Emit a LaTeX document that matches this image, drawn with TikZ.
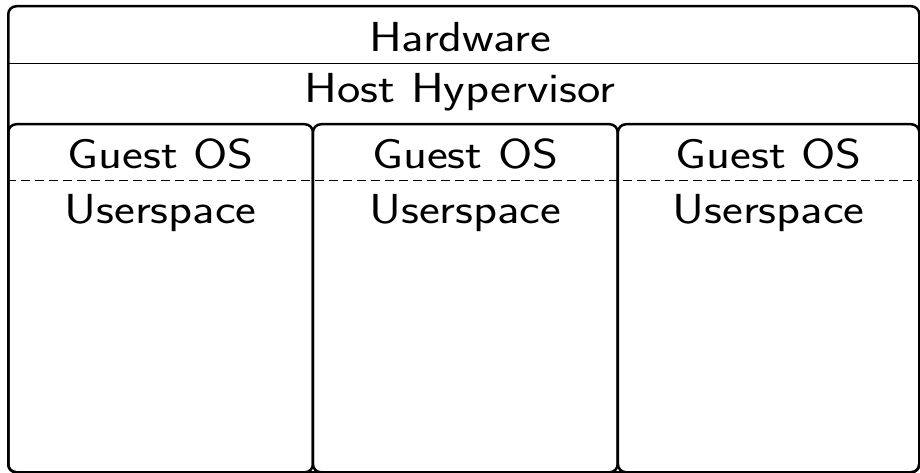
\documentclass[tikz,border=0pt]{standalone}
\usepackage{fontspec}
\newfontfamily\lblfont[FakeStretch=1.18]{lmsans17-regular.otf}
\usetikzlibrary{positioning,calc}
\tikzset{
  frame/.style={draw,line width=2.5pt,rounded corners=8pt,inner sep=0pt,anchor=north west},
  guest/.style={frame,minimum width=304.7pt,minimum height=348pt},
  lbl/.style={font=\fontsize{42}{48}\lblfont,inner sep=0pt,anchor=base},
  sep/.style={line width=1pt},
  dsep/.style={line width=1pt,dash pattern=on 9pt off 5pt},
}
\begin{document}
\begin{tikzpicture}[x=1pt,y=-1pt]
\useasboundingbox (0,0) rectangle (920,473);
% outer frame and layers
\node[frame,minimum width=911pt,minimum height=466pt] (host) at (7,5) {};
\coordinate (sl) at (7,64);
\coordinate (sr) at (918,64);
\draw[sep] (sl) -- (sr);
\node[lbl] (hw) at (460,52) {Hardware};
\node[lbl] (hv) at (460,103) {Host Hypervisor};
% guests
\node[guest] (g1) at (7,123) {};
\node[guest] (g2) at (311.7,123) {};
\node[guest,minimum width=301.3pt] (g3) at (616.7,123) {};
\coordinate (dl) at (7,181);
\coordinate (dr) at (918,181);
\draw[dsep] (dl) -- (dr);
\foreach \g in {1,2,3} {
  \node[lbl] (os\g) at ($(g\g.north)+(0,45)$) {Guest OS};
  \node[lbl] (us\g) at ($(g\g.north)+(0,100)$) {Userspace};
}
\end{tikzpicture}
\end{document}
